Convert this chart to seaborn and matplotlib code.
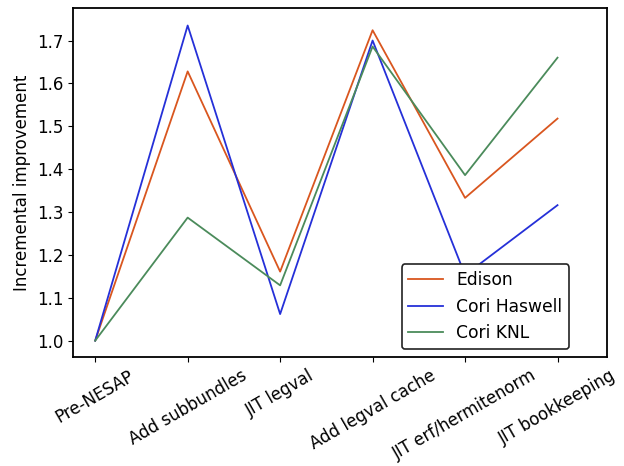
import matplotlib
matplotlib.use("Agg")
import matplotlib.pyplot as plt
import seaborn as sns
import pandas as pd

steps = ["Pre-NESAP", "Add subbundles", "JIT legval", "Add legval cache",
         "JIT erf/hermitenorm", "JIT bookkeeping"]
edison = [1.0, 1.628, 1.161, 1.724, 1.333, 1.518]
cori_haswell = [1.0, 1.735, 1.062, 1.700, 1.153, 1.316]
cori_knl = [1.0, 1.287, 1.129, 1.686, 1.386, 1.660]

COLORS = {"Edison": "#d9561f", "Cori Haswell": "#2530d8", "Cori KNL": "#4b8b5b"}

rows = []
for name, vals in [("Edison", edison), ("Cori Haswell", cori_haswell), ("Cori KNL", cori_knl)]:
    for step, v in zip(steps, vals):
        rows.append({"Step": step, "Machine": name, "Value": v})
df = pd.DataFrame(rows)
df["Step"] = pd.Categorical(df["Step"], categories=steps, ordered=True)

plt.rcParams["font.family"] = ["DejaVu Sans"]
fig, ax = plt.subplots(figsize=(6.24, 4.66), dpi=100)
sns.lineplot(data=df, x="Step", y="Value", hue="Machine", palette=COLORS,
             linewidth=1.3, ax=ax, sort=False)

ax.set_xlabel("")
ax.set_ylabel("Incremental improvement", fontsize=12)
ax.set_ylim(0.962, 1.776)
ax.set_yticks([1.0, 1.1, 1.2, 1.3, 1.4, 1.5, 1.6, 1.7])
ax.tick_params(labelsize=12)
ax.set_xticks(range(len(steps)))
ax.set_xticklabels(steps, rotation=30)
ax.set_xlim(-0.24, 5.53)
for s in ax.spines.values():
    s.set_linewidth(1.3)

leg = ax.legend(loc="lower right", bbox_to_anchor=(0.946, -0.002), fontsize=12.3,
                framealpha=1, edgecolor="#222222")
leg.get_frame().set_linewidth(1.2)

fig.subplots_adjust(left=0.117, right=0.972, top=0.983, bottom=0.234)
plt.savefig("out.png", dpi=100)
plt.close()
